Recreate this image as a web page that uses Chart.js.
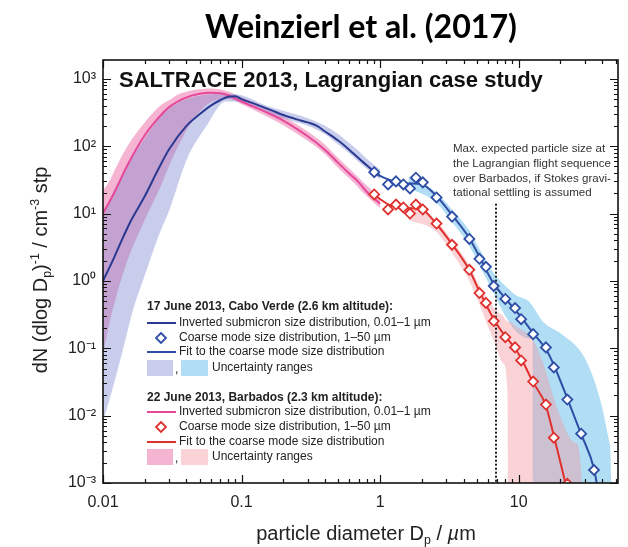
<!DOCTYPE html>
<html>
<head>
<meta charset="utf-8">
<script src="https://cdn.jsdelivr.net/npm/chart.js@4/dist/chart.umd.min.js"></script>
<style>
  html, body { margin: 0; padding: 0; background: #fff; }
</style>
</head>
<body>
<canvas id="grafico" width="628" height="547"></canvas>
<script>
// 17 June 2013, Cabo Verde - inverted submicron distribution
const cvSubD = [0.01, 0.012, 0.014, 0.016, 0.02, 0.025, 0.03, 0.04, 0.05, 0.06, 0.07, 0.08, 0.09, 0.1, 0.13, 0.165, 0.2, 0.25, 0.3, 0.35, 0.4, 0.5, 0.6, 0.7, 0.8, 0.9, 1.0];
const cvSubN = [1.0, 2.2, 4.5, 8, 18, 45, 90, 200, 300, 400, 480, 540, 550, 500, 410, 340, 290, 250, 225, 200, 165, 120, 88, 66, 52, 42, 36];
const cvBandD = [0.01, 0.012, 0.014, 0.0164, 0.02, 0.025, 0.03, 0.04, 0.055, 0.077, 0.1, 0.15, 0.2, 0.3, 0.4, 0.5, 0.6, 0.7, 0.8, 1.0];
const cvBandLo = [0.008, 0.03, 0.1, 0.36, 1.2, 4.5, 11, 62, 190, 460, 450, 320, 260, 200, 150, 105, 78, 58, 46, 32];
const cvBandHi = [9, 22, 40, 70, 130, 250, 360, 500, 580, 600, 570, 400, 335, 260, 200, 150, 110, 85, 65, 45];

// 22 June 2013, Barbados - inverted submicron distribution
const bbSubD = [0.01, 0.012, 0.015, 0.02, 0.025, 0.03, 0.04, 0.05, 0.06, 0.07, 0.08, 0.1, 0.15, 0.2, 0.3, 0.4, 0.5, 0.6, 0.7, 0.8, 1.0];
const bbSubN = [10, 20, 52, 145, 260, 380, 530, 600, 620, 610, 570, 460, 320, 240, 140, 88, 56, 39, 29, 21, 14];
const bbBandD = [0.01, 0.0112, 0.0122, 0.015, 0.02, 0.026, 0.031, 0.034, 0.045, 0.06, 0.08, 0.1, 0.15, 0.2, 0.3, 0.4, 0.5, 0.6, 0.7, 0.8, 1.0];
const bbBandLo = [0.08, 0.25, 0.5, 2, 8, 25, 60, 90, 250, 450, 500, 420, 280, 205, 120, 76, 47, 33, 24, 18, 12];
const bbBandHi = [22, 31, 45, 100, 225, 400, 500, 570, 680, 720, 650, 530, 370, 275, 165, 105, 66, 46, 34, 26, 17];

// coarse mode size distribution (same size bins for both days)
const coarseD = [0.906, 1.14, 1.30, 1.47, 1.64, 1.81, 2.03, 2.55, 3.3, 4.4, 5.2, 5.8, 6.6, 8.0, 9.4, 10.4, 12.7, 15.7, 17.9, 22.4, 28.2, 34.9];
const cvCoarseN = [41, 27, 30, 27, 23.6, 34, 29, 17.3, 9.0, 4.2, 2.13, 1.62, 0.84, 0.54, 0.395, 0.27, 0.162, 0.103, 0.052, 0.0173, 0.0054, 0.00156];
const bbCoarseN = [19.2, 11.5, 13.6, 12.3, 10, 13.6, 11.5, 7.1, 3.44, 1.46, 0.66, 0.47, 0.253, 0.146, 0.103, 0.066, 0.032, 0.0146, 0.0047, 0.00097];

// fits to the coarse mode
const cvFitD = [0.9, 1.2, 1.6, 2.0, 2.5, 3.3, 4.4, 5.2, 6.5, 8, 10, 12.8, 15.8, 18, 22.4, 28, 35, 36.5];
const cvFitN = [40, 31, 28, 27, 19, 9.5, 4.3, 2.3, 0.95, 0.55, 0.32, 0.165, 0.095, 0.055, 0.018, 0.0055, 0.0016, 0.001];
const bbFitD = [0.9, 1.2, 1.6, 2.0, 2.5, 3.3, 4.4, 5.2, 6.6, 8, 9.4, 10.5, 12.6, 15.6, 18, 21.7];
const bbFitN = [19, 13, 12, 11.5, 7.3, 3.5, 1.45, 0.7, 0.27, 0.15, 0.1, 0.068, 0.032, 0.0145, 0.0048, 0.001];

// coarse mode uncertainty ranges
const cvCoarseBandD = [1.6, 2.5, 3.3, 4.4, 5.2, 6.6, 8, 9.5, 11.8, 12.6, 12.8, 14.9, 20.6, 30, 39, 45, 46.5, 47];
const cvCoarseBandLo = [24, 15, 7.5, 3.3, 1.7, 0.65, 0.3, 0.18, 0.14, 0.13, 1e-6, 1e-6, 1e-6, 1e-6, 1e-6, 1e-6, 1e-6, 1e-6];
const cvCoarseBandHi = [36, 21, 11.5, 5.6, 3.0, 1.3, 0.85, 0.62, 0.5, 0.42, 0.4, 0.25, 0.16, 0.071, 0.0162, 0.0041, 0.001, 1e-6];
const bbCoarseBandD = [1.6, 2.5, 3.3, 4.4, 5.2, 5.8, 6.6, 7.7, 8.3, 8.4, 10, 12.5, 15, 19.3, 25.5, 28.6, 28.7];
const bbCoarseBandLo = [8, 5.5, 2.6, 1.0, 0.45, 0.25, 0.13, 0.06, 0.02, 1e-6, 1e-6, 1e-6, 1e-6, 1e-6, 1e-6, 1e-6, 1e-6];
const bbCoarseBandHi = [13, 8, 4, 1.7, 0.85, 0.6, 0.4, 0.3, 0.25, 0.25, 0.2, 0.14, 0.06, 0.0115, 0.004, 0.001, 1e-6];

// max. expected particle size (Stokes settling)
const stokesD = [6.85, 6.85];
const stokesN = [14, 0.001];

// tick labels
const xTickLabels = ['0.01', '0.1', '1', '10'];           // 10^-2 .. 10^1
const yTickLabels = ['10⁻³', '10⁻²', '10⁻¹', '10⁰', '10¹', '10²', '10³']; // 10^-3 .. 10^3

const FONT = '"Liberation Sans", Arial, Helvetica, sans-serif';
const cvLine = '#2b3990', cvFit = '#2f4ea6', bbLine = '#e5489a', bbFit = '#e0312f';
const lavender = 'rgba(125,135,210,0.42)', pinkBand = 'rgba(232,90,155,0.45)';
const cyanBand = 'rgba(100,190,235,0.5)', salmonBand = 'rgba(242,150,160,0.42)';

function pts(xs, ys) {
  return ys.map((y, i) => ({ x: xs[i], y }));
}

function band(xs, lo, hi, color, order) {
  const common = { borderWidth: 0, borderColor: 'transparent', pointRadius: 0, cubicInterpolationMode: 'monotone', order };
  return [
    { ...common, data: pts(xs, hi), fill: '+1', backgroundColor: color },
    { ...common, data: pts(xs, lo), fill: false }
  ];
}

function exponent(v) {
  const e = Math.round(Math.log10(v));
  return Math.abs(Math.log10(v) - e) < 1e-6 ? e : null;
}

function mantissa(v) {
  const m = v / Math.pow(10, Math.floor(Math.log10(v) + 1e-9));
  const r = Math.round(m);
  return Math.abs(m - r) < 1e-6 && r >= 1 && r <= 9 ? r : 0;
}

// text with sub/superscripts: parts = [[text, 'sub'|'sup'|'it'|undefined], ...]
function richText(ctx, parts, cx, cy, size, color) {
  const fontFor = p => (p[1] === 'it' ? 'italic ' : '') + (p[1] === 'sub' || p[1] === 'sup' ? size * 0.62 : size) + 'px ' + FONT;
  let total = 0;
  parts.forEach(p => { ctx.font = fontFor(p); total += ctx.measureText(p[0]).width; });
  let x = cx - total / 2;
  ctx.fillStyle = color;
  ctx.textBaseline = 'alphabetic';
  ctx.textAlign = 'left';
  const base = cy + size * 0.35;
  parts.forEach(p => {
    ctx.font = fontFor(p);
    let dy = 0;
    if (p[1] === 'sub') dy = size * 0.22;
    if (p[1] === 'sup') dy = -size * 0.42;
    ctx.fillText(p[0], x, base + dy);
    x += ctx.measureText(p[0]).width;
  });
}

function fitFont(ctx, str, weight, family, width) {
  ctx.font = weight + ' 100px ' + family;
  const size = 100 * width / ctx.measureText(str).width;
  return weight + ' ' + size.toFixed(2) + 'px ' + family;
}

const overlay = {
  id: 'overlay',
  afterDraw(chart) {
    const { ctx, chartArea: a, scales: { x, y } } = chart;
    ctx.save();

    // inward ticks on all four sides
    ctx.strokeStyle = '#111';
    ctx.lineWidth = 1.2;
    ctx.beginPath();
    x.ticks.forEach(t => {
      const m = mantissa(t.value);
      if (!m) return;
      const px = Math.round(x.getPixelForValue(t.value)) + 0.5;
      const len = m === 1 ? 8 : 4;
      ctx.moveTo(px, a.bottom); ctx.lineTo(px, a.bottom - len);
      ctx.moveTo(px, a.top); ctx.lineTo(px, a.top + len);
    });
    y.ticks.forEach(t => {
      const m = mantissa(t.value);
      if (!m) return;
      const py = Math.round(y.getPixelForValue(t.value)) + 0.5;
      const len = m === 1 ? 8 : 4;
      ctx.moveTo(a.left, py); ctx.lineTo(a.left + len, py);
      ctx.moveTo(a.right, py); ctx.lineTo(a.right - len, py);
    });
    ctx.stroke();

    // frame
    ctx.lineWidth = 1.6;
    ctx.strokeRect(a.left, a.top, a.right - a.left, a.bottom - a.top);

    // chart title
    ctx.fillStyle = '#000';
    ctx.textBaseline = 'middle';
    ctx.textAlign = 'center';
    ctx.font = fitFont(ctx, 'Weinzierl et al. (2017)', 'bold', 'Lato, "Open Sans", sans-serif', 312);
    ctx.fillText('Weinzierl et al. (2017)', 361, 28);

    // in-plot heading
    ctx.textAlign = 'left';
    ctx.fillStyle = '#111';
    ctx.font = fitFont(ctx, 'SALTRACE 2013, Lagrangian case study', 'bold', FONT, 424);
    ctx.fillText('SALTRACE 2013, Lagrangian case study', 119, 81);

    // note on the Stokes settling line
    const note = ['Max. expected particle size at', 'the Lagrangian flight sequence',
                  'over Barbados, if Stokes gravi-', 'tational settling is assumed'];
    ctx.fillStyle = '#333';
    ctx.font = fitFont(ctx, note[1], 'normal', FONT, 158);
    note.forEach((s, i) => ctx.fillText(s, 453, 149 + i * 14.7));

    // legend
    const rows = [307, 323, 338, 352, 368, 398, 412, 427, 442, 457];
    const groups = [
      { head: '17 June 2013, Cabo Verde (2.6 km altitude):', line: cvLine, mark: cvFit, fit: cvFit, b1: lavender, b2: cyanBand },
      { head: '22 June 2013, Barbados (2.3 km altitude):', line: bbLine, mark: bbFit, fit: bbFit, b1: pinkBand, b2: salmonBand }
    ];
    groups.forEach((g, k) => {
      const r = rows.slice(k * 5, k * 5 + 5);
      ctx.fillStyle = '#222';
      ctx.font = 'bold 12px ' + FONT;
      ctx.fillText(g.head, 147, r[0]);
      ctx.font = '12px ' + FONT;
      ctx.lineWidth = 2;
      ctx.strokeStyle = g.line;
      ctx.beginPath(); ctx.moveTo(147, r[1]); ctx.lineTo(176, r[1]); ctx.stroke();
      ctx.fillText('Inverted submicron size distribution, 0.01\u20131 \u00b5m', 179, r[1]);
      ctx.strokeStyle = g.mark;
      ctx.lineWidth = 1.8;
      ctx.beginPath();
      ctx.moveTo(161, r[2] - 5); ctx.lineTo(166, r[2]); ctx.lineTo(161, r[2] + 5); ctx.lineTo(156, r[2]); ctx.closePath();
      ctx.stroke();
      ctx.fillText('Coarse mode size distribution, 1\u201350 \u00b5m', 179, r[2]);
      ctx.strokeStyle = g.fit;
      ctx.lineWidth = 2;
      ctx.beginPath(); ctx.moveTo(147, r[3]); ctx.lineTo(176, r[3]); ctx.stroke();
      ctx.fillText('Fit to the coarse mode size distribution', 179, r[3]);
      ctx.fillStyle = g.b1; ctx.fillRect(147, r[4] - 8, 26, 16);
      ctx.fillStyle = g.b2; ctx.fillRect(181, r[4] - 8, 27, 16);
      ctx.fillStyle = '#222';
      ctx.fillText(',', 175, r[4] + 2);
      ctx.fillText('Uncertainty ranges', 212, r[4]);
    });

    // axis titles
    richText(ctx, [['particle diameter D'], ['p', 'sub'], [' / '], ['\u00b5', 'it'], ['m']], 366, 533, 20, '#222');
    ctx.save();
    ctx.translate(40, 270);
    ctx.rotate(-Math.PI / 2);
    richText(ctx, [['dN (dlog D'], ['p', 'sub'], [')'], ['-1', 'sup'], [' / cm'], ['-3', 'sup'], [' stp']], 0, 0, 20, '#222');
    ctx.restore();

    ctx.restore();
  }
};

const datasets = [
  ...band(cvBandD, cvBandLo, cvBandHi, lavender, 8),
  ...band(bbBandD, bbBandLo, bbBandHi, pinkBand, 9),
  ...band(cvCoarseBandD, cvCoarseBandLo, cvCoarseBandHi, cyanBand, 11),
  ...band(bbCoarseBandD, bbCoarseBandLo, bbCoarseBandHi, salmonBand, 10),
  { data: pts(stokesD, stokesN), borderColor: '#222', borderWidth: 2, borderDash: [2, 2], pointRadius: 0, fill: false, order: 5 },
  { data: pts(bbSubD, bbSubN), borderColor: bbLine, borderWidth: 2, pointRadius: 0, fill: false, cubicInterpolationMode: 'monotone', order: 4 },
  { data: pts(cvSubD, cvSubN), borderColor: cvLine, borderWidth: 2, pointRadius: 0, fill: false, cubicInterpolationMode: 'monotone', order: 3 },
  { data: pts(bbFitD, bbFitN), borderColor: bbFit, borderWidth: 2, pointRadius: 0, fill: false, cubicInterpolationMode: 'monotone', order: 3 },
  { data: pts(cvFitD, cvFitN), borderColor: cvFit, borderWidth: 2, pointRadius: 0, fill: false, cubicInterpolationMode: 'monotone', order: 2 },
  { data: pts(coarseD, bbCoarseN), showLine: false, pointStyle: 'rectRot', pointRadius: 5, borderWidth: 1.8, borderColor: bbFit, backgroundColor: '#fff', fill: false, order: 1 },
  { data: pts(coarseD, cvCoarseN), showLine: false, pointStyle: 'rectRot', pointRadius: 5, borderWidth: 1.8, borderColor: cvFit, backgroundColor: '#fff', fill: false, order: 0 }
];

new Chart(document.getElementById('grafico').getContext('2d'), {
  type: 'line',
  data: { datasets },
  options: {
    responsive: false,
    animation: false,
    devicePixelRatio: 1,
    layout: { padding: { top: 60, right: 5, left: 0, bottom: 0 } },
    plugins: {
      legend: { display: false },
      title: { display: false },
      tooltip: { enabled: false },
      filler: { drawTime: 'beforeDatasetsDraw' }
    },
    scales: {
      x: {
        type: 'logarithmic',
        min: 0.01,
        max: 52,
        afterFit(s) { s.height = 64; },
        grid: { display: false, drawTicks: false },
        border: { display: false },
        ticks: {
          autoSkip: false,
          maxRotation: 0,
          padding: 10,
          color: '#222',
          font: { family: FONT, size: 16 },
          callback(v) {
            const e = exponent(v);
            return e !== null && e >= -2 && e <= 1 ? xTickLabels[e + 2] : '';
          }
        }
      },
      y: {
        type: 'logarithmic',
        min: 0.001,
        max: 1900,
        afterFit(s) { s.width = 103; },
        grid: { display: false, drawTicks: false },
        border: { display: false },
        ticks: {
          autoSkip: false,
          padding: 7,
          color: '#222',
          font: { family: FONT, size: 16 },
          callback(v) {
            const e = exponent(v);
            return e !== null && e >= -3 && e <= 3 ? yTickLabels[e + 3] : '';
          }
        }
      }
    }
  },
  plugins: [overlay]
});
</script>
</body>
</html>
